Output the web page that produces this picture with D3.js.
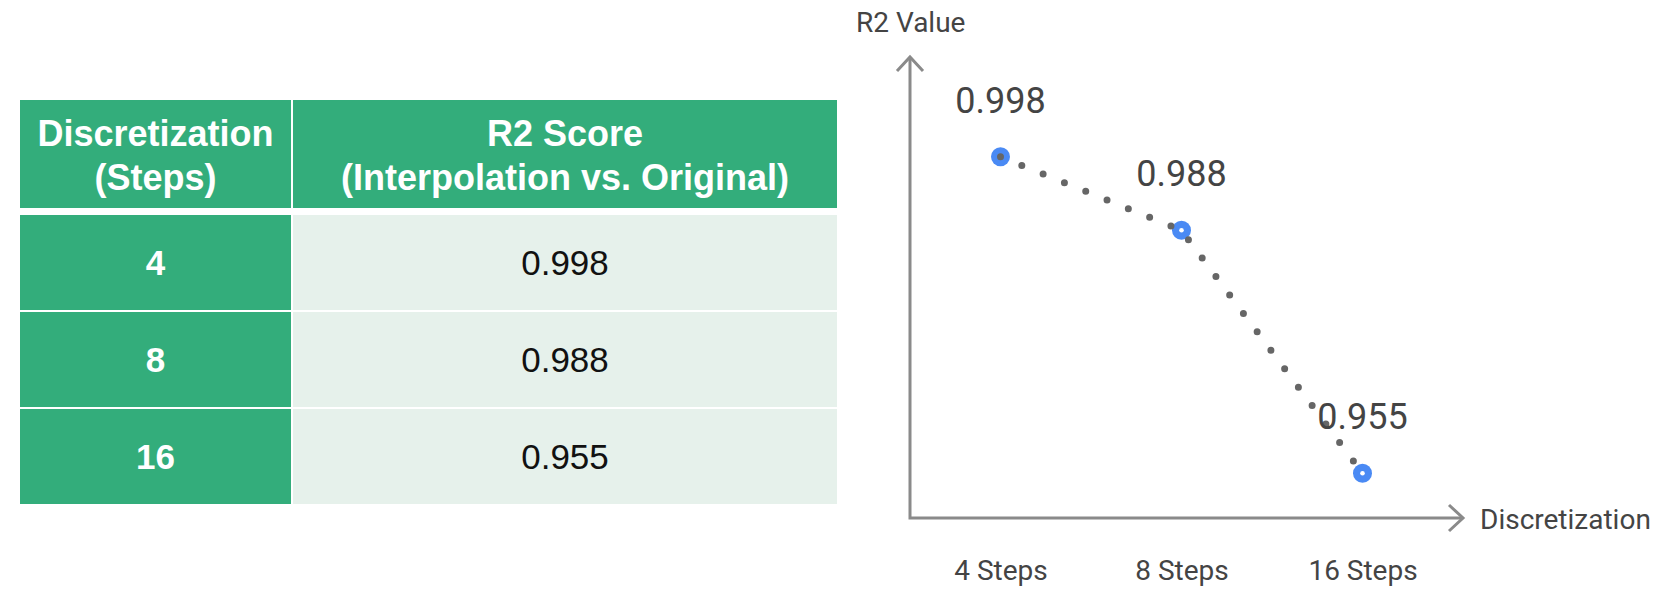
<!DOCTYPE html>
<html><head><meta charset="utf-8">
<script src="https://cdn.jsdelivr.net/npm/d3@7"></script>
<style>html,body{margin:0;padding:0;background:#fff;}svg{display:block;}</style>
</head><body>
<svg id="c" width="1669" height="608"></svg>
<script>
// ---- data ----
const steps = [4, 8, 16];
const r2 = [0.998, 0.988, 0.955];
const tickLabels = ["4 Steps", "8 Steps", "16 Steps"];
const headerCol1 = ["Discretization", "(Steps)"];
const headerCol2 = ["R2 Score", "(Interpolation vs. Original)"];
const yAxisTitle = "R2 Value";
const xAxisTitle = "Discretization";

const svg = d3.select("#c");
const GREEN = "#33ad7b", LIGHT = "#e6f1eb";

// ---- table ----
const tbl = svg.append("g");
const colX = [20, 293], colW = [271, 544];
const headY = 100, headH = 108, rowY0 = 215, rowH = 95, rowGap = 2;
const tfont = "'Liberation Sans', Arial, sans-serif";
[headerCol1, headerCol2].forEach((lines, i) => {
  tbl.append("rect").attr("x", colX[i]).attr("y", headY).attr("width", colW[i]).attr("height", headH).attr("fill", GREEN);
  tbl.append("text").attr("x", colX[i] + colW[i] / 2).attr("y", headY + headH / 2)
    .attr("text-anchor", "middle").attr("font-family", tfont).attr("font-weight", "bold")
    .attr("font-size", 36).attr("fill", "#fff")
    .selectAll("tspan").data(lines).join("tspan")
    .attr("x", colX[i] + colW[i] / 2)
    .attr("dy", (d, j) => j === 0 ? -8 : 44)
    .text(d => d);
});
steps.forEach((s, i) => {
  const y = rowY0 + i * (rowH + rowGap);
  tbl.append("rect").attr("x", colX[0]).attr("y", y).attr("width", colW[0]).attr("height", rowH).attr("fill", GREEN);
  tbl.append("rect").attr("x", colX[1]).attr("y", y).attr("width", colW[1]).attr("height", rowH).attr("fill", LIGHT);
  tbl.append("text").attr("x", colX[0] + colW[0] / 2).attr("y", y + rowH / 2 + 12)
    .attr("text-anchor", "middle").attr("font-family", tfont).attr("font-weight", "bold")
    .attr("font-size", 35).attr("fill", "#fff").text(s);
  tbl.append("text").attr("x", colX[1] + colW[1] / 2).attr("y", y + rowH / 2 + 12)
    .attr("text-anchor", "middle").attr("font-family", tfont)
    .attr("font-size", 35).attr("fill", "#111").text(r2[i].toFixed(3));
});

// ---- chart ----
const ox = 910, oy = 518, xEnd = 1463, yTop = 57;
const x = d3.scalePoint().domain(tickLabels).range([ox, 1453]).padding(0.5);
const y = d3.scaleLinear().domain([0.95, 1.0]).range([510, 142]);
const AX = "#8a8a8a";
const ch = svg.append("g").attr("font-family", "Roboto, sans-serif");

ch.append("path").attr("d", `M${ox},${yTop}V${oy}H${xEnd}`)
  .attr("fill", "none").attr("stroke", AX).attr("stroke-width", 3);
ch.append("path").attr("d", `M${ox - 13},${yTop + 14}L${ox},${yTop}L${ox + 13},${yTop + 14}`)
  .attr("fill", "none").attr("stroke", AX).attr("stroke-width", 3);
ch.append("path").attr("d", `M${xEnd - 14},${oy - 13}L${xEnd},${oy}L${xEnd - 14},${oy + 13}`)
  .attr("fill", "none").attr("stroke", AX).attr("stroke-width", 3);

ch.append("text").attr("x", 856).attr("y", 32).attr("font-size", 28).attr("fill", "#444").text(yAxisTitle);
ch.append("text").attr("x", 1480).attr("y", 529).attr("font-size", 28).attr("fill", "#444").text(xAxisTitle);

const xa = ch.append("g").attr("transform", `translate(0,${oy})`)
  .call(d3.axisBottom(x).tickSize(0).tickPadding(42));
xa.select(".domain").remove();
xa.selectAll("text").attr("font-family", "Roboto, sans-serif").attr("font-size", 28).attr("fill", "#444");

const pts = tickLabels.map((t, i) => [x(t), y(r2[i])]);

ch.selectAll("circle.pt").data(pts).join("circle").attr("class", "pt")
  .attr("cx", d => d[0]).attr("cy", d => d[1]).attr("r", 9.5).attr("fill", "#4a8af4");
ch.selectAll("circle.in").data(pts).join("circle").attr("class", "in")
  .attr("cx", d => d[0]).attr("cy", d => d[1]).attr("r", 2.3).attr("fill", "#fff");

ch.append("path").attr("d", d3.line()(pts)).attr("fill", "none")
  .attr("stroke", "#666").attr("stroke-width", 7).attr("stroke-linecap", "round")
  .attr("stroke-dasharray", "0 23");

ch.selectAll("text.val").data(pts).join("text").attr("class", "val")
  .attr("x", d => d[0]).attr("y", d => d[1] - 44).attr("text-anchor", "middle")
  .attr("font-size", 36).attr("fill", "#444").text((d, i) => r2[i].toFixed(3));
</script>
</body></html>
